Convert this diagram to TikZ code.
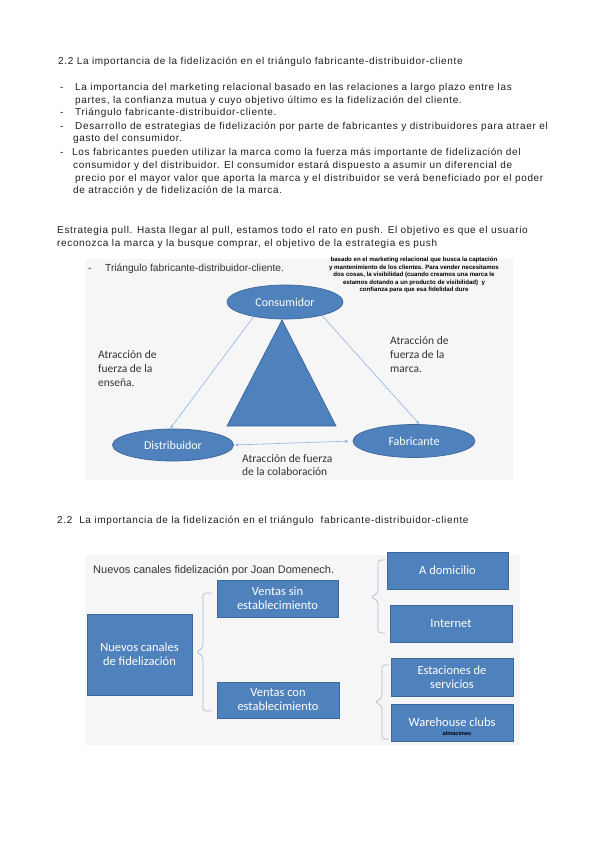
\documentclass[tikz,border=0pt]{standalone}
\usepackage{fontspec}
\setmainfont{Liberation Sans}
\newfontfamily\bodyfont{Liberation Sans}[LetterSpace=6.5]
\newfontfamily\calib{Carlito}
\usetikzlibrary{arrows.meta,shapes.geometric}
\definecolor{boxblue}{HTML}{4F81BD}
\definecolor{boxedge}{HTML}{3B679B}
\definecolor{linkblue}{HTML}{8EB4E3}
\definecolor{bracecol}{HTML}{A8BCD6}
\definecolor{panel}{HTML}{F6F6F6}
\definecolor{bodytext}{HTML}{1E1E1E}
\definecolor{figtext}{HTML}{333333}
\begin{document}
\begin{tikzpicture}[x=1pt,y=-1pt,
  body/.style={anchor=base west, inner sep=0pt, font=\bodyfont\fontsize{10}{11}\selectfont, text=bodytext},
  figline/.style={anchor=base west, inner sep=0pt, font=\fontsize{10.2}{11}\selectfont, text=figtext},
  lbl/.style={anchor=north west, inner sep=0pt, align=left, font=\calib\fontsize{11.5}{14.3}\selectfont, text=figtext},
  ell/.style={ellipse, draw=boxedge, fill=boxblue, line width=0.7pt, text=white, inner sep=0pt, font=\calib\fontsize{12}{13}\selectfont},
  box/.style={rectangle, draw=boxedge, fill=boxblue, line width=0.7pt, text=white, inner sep=0pt, align=center, font=\calib\fontsize{12.5}{14}\selectfont},
  link/.style={draw=linkblue, line width=0.6pt},
  tip/.style={-{Stealth[length=4pt,width=3pt]}},
  bracestyle/.style={draw=bracecol, line width=0.7pt, rounded corners=3pt},
  note/.style={inner sep=0pt, align=center, font=\bfseries\fontsize{6.1}{7.4}\selectfont, text=black}
]
\useasboundingbox (0,0) rectangle (599,848);
\fill[white] (0,0) rectangle (599,848);

% ---- text block ----
\node[body] (t1) at (58,65) {2.2 La importancia de la fidelización en el triángulo fabricante-distribuidor-cliente};
\node[body] (d1) at (60,91) {-};
\node[body] (l1) at (75,91) {La importancia del marketing relacional basado en las relaciones a largo plazo entre las};
\node[body] (l2) at (75,103) {partes, la confianza mutua y cuyo objetivo último es la fidelización del cliente.};
\node[body] (d2) at (60,116) {-};
\node[body] (l3) at (75,116) {Triángulo fabricante-distribuidor-cliente.};
\node[body] (d3) at (60,130) {-};
\node[body] (l4) at (75,130) {Desarrollo de estrategias de fidelización por parte de fabricantes y distribuidores para atraer el};
\node[body] (l5) at (73,142) {gasto del consumidor.};
\node[body] (d4) at (60,155) {-};
\node[body] (l6) at (72,155) {Los fabricantes pueden utilizar la marca como la fuerza más importante de fidelización del};
\node[body] (l7) at (73,168) {consumidor y del distribuidor. El consumidor estará dispuesto a asumir un diferencial de};
\node[body] (l8) at (75,181) {precio por el mayor valor que aporta la marca y el distribuidor se verá beneficiado por el poder};
\node[body] (l9) at (73,193) {de atracción y de fidelización de la marca.};

\node[body] (e1) at (57,233) {Estrategia pull. Hasta llegar al pull, estamos todo el rato en push. El objetivo es que el usuario};
\node[body] (e2) at (57,246) {reconozca la marca y la busque comprar, el objetivo de la estrategia es push};

\node[body] (t2) at (57,523) {2.2 \ La importancia de la fidelización en el triángulo \ fabricante-distribuidor-cliente};

% ---- figure 1 ----
\fill[panel] (85,259) rectangle (513,480);
\node[figline] (f1d) at (88,271) {-};
\node[figline] (f1t) at (105,271) {Triángulo fabricante-distribuidor-cliente.};
\node[note] (ann) at (414,275) {basado en el marketing relacional que busca la captación\\
y mantenimiento de los clientes. Para vender necesitamos\\
dos cosas, la visibilidad (cuando creamos una marca le\\
estamos dotando a un producto de visibilidad) \ y\\
confianza para que esa fidelidad dure};

\fill[boxblue, draw=boxedge, line width=0.7pt] (282,320) -- (336,426) -- (227,426) -- cycle;

\node[ell, minimum width=116pt, minimum height=34pt] (cons) at (285,302) {Consumidor};
\node[ell, minimum width=121pt, minimum height=32pt] (dist) at (173,445) {Distribuidor};
\node[ell, minimum width=122pt, minimum height=33pt] (fab) at (414,441) {Fabricante};

\draw[link, tip] (cons.205) -- (dist.100);
\draw[link, tip] (cons.340) -- (fab.72);
\draw[link, {Stealth[length=4pt,width=3pt]}-{Stealth[length=4pt,width=3pt]}, shorten <=1pt, shorten >=4pt] (dist.east) -- (fab.west);

\node[lbl] (la) at (98,350) {Atracción de\\fuerza de la\\enseña.};
\node[lbl] (lb) at (390,336) {Atracción de\\fuerza de la\\marca.};
\node[lbl, font=\calib\fontsize{11.5}{13}\selectfont] (lc) at (242,454) {Atracción de fuerza\\de la colaboración};

% ---- figure 2 ----
\fill[panel] (85,555) rectangle (520,745);
\node[figline, font=\fontsize{11}{12}\selectfont] (f2t) at (93,573) {Nuevos canales fidelización por Joan Domenech.};

\node[box, minimum width=105pt, minimum height=81pt] (nuevos) at (139.5,654.5) {Nuevos canales\\de fidelización};
\node[box, minimum width=121pt, minimum height=37pt] (vsin) at (277.5,598.5) {Ventas sin\\establecimiento};
\node[box, minimum width=122pt, minimum height=36pt] (vcon) at (278,700) {Ventas con\\establecimiento};
\node[box, minimum width=121pt, minimum height=37pt] (dom) at (447.5,570.5) {A domicilio};
\node[box, minimum width=122pt, minimum height=37pt] (int) at (451,623.5) {Internet};
\node[box, minimum width=122pt, minimum height=38pt] (est) at (452,677) {Estaciones de\\servicios};
\node[box, minimum width=122pt, minimum height=37pt] (wh) at (452,722.5) {Warehouse clubs};
\node[note, font=\bfseries\fontsize{5.6}{6}\selectfont] (alm) at (457,733.5) {almacenes};

% braces
\coordinate (b1) at (196,652);
\coordinate (b2) at (371,597);
\coordinate (b3) at (375,702);
\draw[bracestyle] (211,593) -- (203,593) -- (203,648) -- (b1) -- (203,656) -- (203,711) -- (211,711);
\draw[bracestyle] (385,560) -- (378,560) -- (378,593) -- (b2) -- (378,601) -- (378,633) -- (385,633);
\draw[bracestyle] (389,665) -- (382,665) -- (382,698) -- (b3) -- (382,706) -- (382,739) -- (389,739);
\end{tikzpicture}
\end{document}
